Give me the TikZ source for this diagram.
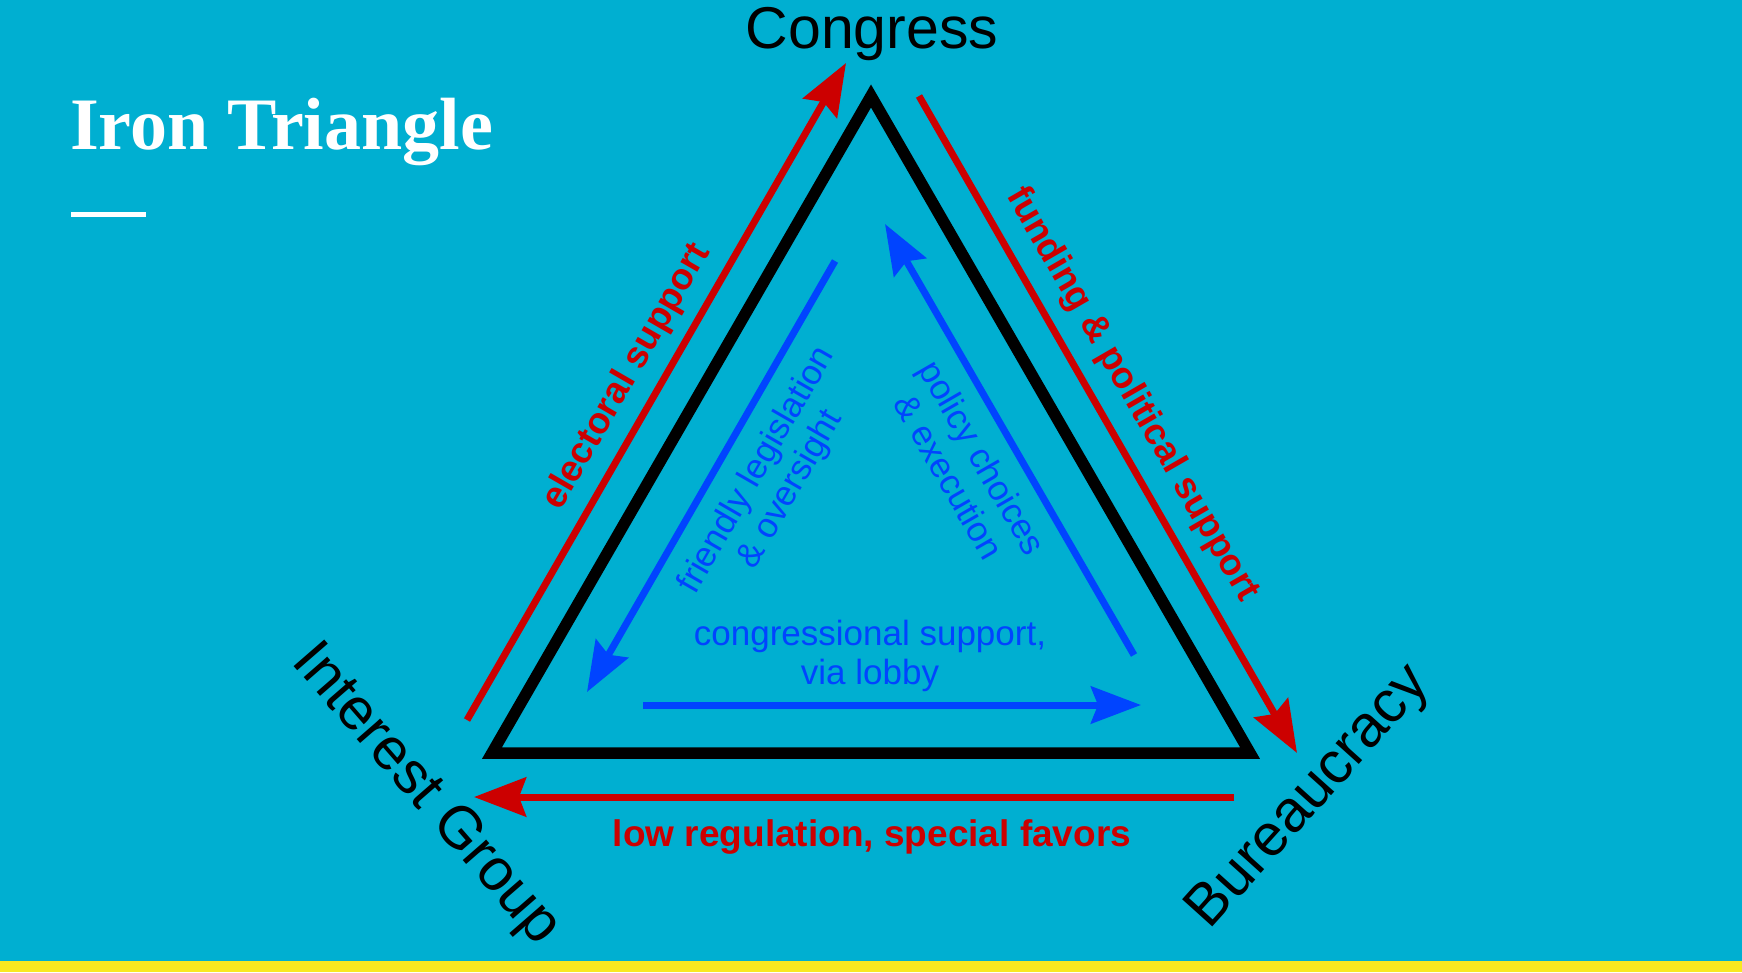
\documentclass[tikz,border=0pt]{standalone}
\usepackage{fontspec}
\usepackage{xcolor}
\usetikzlibrary{arrows.meta,positioning}
\setmainfont{Liberation Sans}
\newfontfamily\titlefont{Liberation Serif}
\definecolor{ironbg}{RGB}{0,175,209}
\definecolor{ironred}{RGB}{204,0,0}
\definecolor{ironblue}{RGB}{0,68,255}
\definecolor{ironyellow}{RGB}{249,232,32}

\begin{document}
\begin{tikzpicture}[x=1pt,y=-1pt,
    redarrow/.style={draw=ironred, line width=7pt, -{Stealth[length=52pt,width=39pt,inset=7pt]}},
    bluearrow/.style={draw=ironblue, line width=7pt, -{Stealth[length=50pt,width=37pt,inset=7pt]}},
    actor/.style={font=\fontsize{59}{60}\selectfont, inner sep=0pt},
    redlabel/.style={text=ironred, font=\bfseries\fontsize{37}{40}\selectfont, inner sep=0pt},
    bluelabel/.style={text=ironblue, font=\fontsize{35}{39}\selectfont, align=center, inner sep=0pt}]
    % Background and bottom band
    \fill[ironbg] (0,0) rectangle (1742,972);
    \fill[ironyellow] (0,961) rectangle (1742,972);

    % Title
    \node[text=white, font=\titlefont\bfseries\fontsize{74}{80}\selectfont, anchor=base west, inner sep=0pt] (title) at (70,149) {Iron Triangle};
    \fill[white] (71,212) rectangle (146,217);

    % Triangle corners
    \coordinate (congV) at (871,96);
    \coordinate (intV) at (492,753);
    \coordinate (burV) at (1250,753);
    \draw[line width=11.5pt, line join=miter] (congV) -- (burV) -- (intV) -- cycle;

    % Actors
    \node[actor, anchor=base] (congress) at (872,48) {Congress};
    \node[actor, rotate=-49] (intgroup) at (425,795) {Interest Group};
    \node[actor, rotate=48] (bureau) at (1310,798) {Bureaucracy};

    % Outer (red) flows
    \coordinate (elecS) at (467,720);
    \coordinate (elecE) at (846,63);
    \coordinate (fundS) at (919,96);
    \coordinate (fundE) at (1297,753);
    \coordinate (lowS) at (1234,797);
    \coordinate (lowE) at (474,797);
    \draw[redarrow] (elecS) -- (elecE);
    \draw[redarrow] (fundS) -- (fundE);
    \draw[redarrow] (lowS) -- (lowE);
    \node[redlabel, rotate=60] (elec) at (627,377) {electoral support};
    \node[redlabel, rotate=-60] (fund) at (1132,395) {funding \& political support};
    \node[redlabel] (lowreg) at (872,837) {low regulation, special favors};

    % Inner (blue) flows
    \coordinate (friendS) at (835,261);
    \coordinate (friendE) at (587,692);
    \coordinate (policyS) at (1134,655);
    \coordinate (policyE) at (885,224);
    \coordinate (lobbyS) at (643,705);
    \coordinate (lobbyE) at (1141,705);
    \draw[bluearrow] (friendS) -- (friendE);
    \draw[bluearrow] (policyS) -- (policyE);
    \draw[bluearrow] (lobbyS) -- (lobbyE);
    \node[bluelabel, rotate=60] (friendly) at (774,480) {friendly legislation\\\& oversight};
    \node[bluelabel, rotate=-60] (policy) at (966,467) {policy choices\\\& execution};
    \node[bluelabel] (lobby) at (870,656) {congressional support,\\via lobby};
\end{tikzpicture}
\end{document}
